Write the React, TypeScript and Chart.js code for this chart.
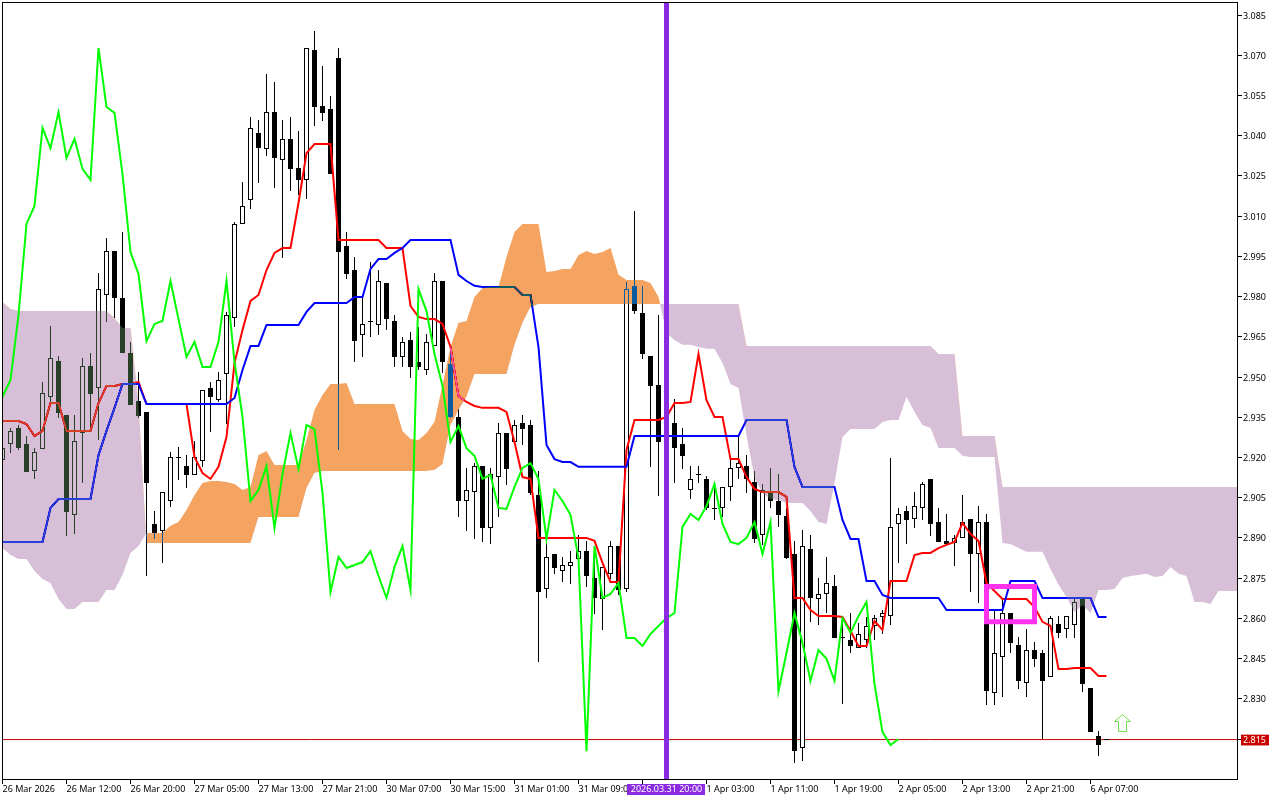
import React, { useEffect, useRef } from "react";
import { Chart, registerables } from "chart.js";

const fontFamily = "'Noto Sans', sans-serif";

const opens = [
  2.9191, 2.9250, 2.9310, 2.9250, 2.9150, 2.9232, 2.9426, 2.9560, 2.9358, 2.8986,
  2.9291, 2.9541, 2.9459, 2.9806, 2.9970, 2.9795, 2.9590, 2.9411, 2.9370, 2.8952,
  2.8926, 2.9038, 2.9202, 2.9168, 2.9135, 2.9187, 2.9459, 2.9414, 2.9511, 2.9720,
  3.0071, 3.0160, 3.0410, 3.0350, 3.0488, 3.0309, 3.0388, 3.0280, 3.0235, 3.0720,
  3.0511, 3.0500, 3.0690, 2.9989, 2.9899, 2.9657, 2.9705, 2.9694, 2.9851, 2.9709,
  2.9575, 2.9638, 2.9556, 2.9526, 2.9616, 2.9858, 2.9549, 2.9351, 2.9038, 2.9071,
  2.9168, 2.8937, 2.9127, 2.9291, 2.9258, 2.9329, 2.9321, 2.9060, 2.8710, 2.8840,
  2.8777, 2.8795, 2.8822, 2.8851, 2.8751, 2.8672, 2.8766, 2.8870, 2.8710, 2.9840,
  2.9739, 2.9578, 2.9470, 2.9351, 2.9329, 2.9250, 2.9079, 2.9138, 2.9120, 2.9012,
  2.9012, 2.9090, 2.9161, 2.9168, 2.9109, 2.8911, 2.9068, 2.9038, 2.8982, 2.8840,
  2.8117, 2.8859, 2.8672, 2.8691, 2.8721, 2.8531, 2.8519, 2.8490, 2.8519, 2.8572,
  2.8605, 2.8609, 2.8952, 2.9000, 2.8971, 2.9012, 2.9120, 2.8959, 2.8889, 2.8881,
  2.8900, 2.8971, 2.8840, 2.8959, 2.8322, 2.8456, 2.8620, 2.8501, 2.8359, 2.8482,
  2.8471, 2.8381, 2.8579, 2.8560, 2.8575, 2.8672, 2.8340, 2.8162, 2.8150,
];
const highs = [
  2.9239, 2.9310, 2.9321, 2.9280, 2.9235, 2.9482, 2.9690, 2.9578, 2.9358, 2.9358,
  2.9571, 2.9590, 2.9888, 3.0019, 2.9970, 3.0041, 2.9631, 2.9519, 2.9370, 2.9000,
  2.9071, 2.9220, 2.9239, 2.9209, 2.9262, 2.9452, 2.9482, 2.9519, 2.9743, 3.0078,
  3.0227, 3.0470, 3.0459, 3.0630, 3.0600, 3.0459, 3.0470, 3.0417, 3.0727, 3.0790,
  3.0660, 3.0548, 3.0727, 3.0041, 2.9948, 2.9798, 2.9929, 2.9899, 2.9851, 2.9731,
  2.9649, 2.9668, 2.9687, 2.9661, 2.9888, 2.9858, 2.9590, 2.9381, 2.9161, 2.9179,
  2.9168, 2.9161, 2.9329, 2.9291, 2.9340, 2.9358, 2.9340, 2.9150, 2.8881, 2.8840,
  2.8829, 2.8851, 2.8911, 2.8889, 2.8866, 2.8792, 2.8889, 2.8870, 2.9854, 3.0119,
  2.9840, 2.9578, 2.9731, 2.9396, 2.9418, 2.9310, 2.9168, 2.9168, 2.9131, 2.9101,
  2.9090, 2.9191, 2.9280, 2.9209, 2.9150, 2.9101, 2.9161, 2.9138, 2.9012, 2.8889,
  2.8930, 2.8911, 2.8751, 2.8829, 2.8762, 2.8605, 2.8620, 2.8583, 2.8605, 2.8613,
  2.8631, 2.9198, 2.9012, 2.9019, 2.9071, 2.9109, 2.9120, 2.9012, 2.8989, 2.8911,
  2.9060, 2.8971, 2.9019, 2.8989, 2.8631, 2.8669, 2.8620, 2.8531, 2.8560, 2.8512,
  2.8482, 2.8609, 2.8609, 2.8609, 2.8676, 2.8680, 2.8340, 2.8180, 2.8150,
];
const lows = [
  2.9183, 2.9217, 2.9228, 2.9146, 2.9120, 2.9232, 2.9407, 2.9347, 2.8907, 2.8915,
  2.9105, 2.9314, 2.9265, 2.9705, 2.9720, 2.9590, 2.9396, 2.9347, 2.8758, 2.8896,
  2.8807, 2.9015, 2.9116, 2.9086, 2.9135, 2.9165, 2.9295, 2.9407, 2.9325, 2.9687,
  3.0071, 3.0127, 3.0224, 3.0324, 3.0205, 2.9944, 3.0194, 3.0179, 3.0164, 3.0436,
  3.0455, 3.0257, 2.9228, 2.9866, 2.9556, 2.9575, 2.9649, 2.9657, 2.9675, 2.9537,
  2.9537, 2.9496, 2.9526, 2.9508, 2.9616, 2.9515, 2.9347, 2.8978, 2.8926, 2.8896,
  2.8885, 2.8877, 2.8978, 2.9097, 2.9258, 2.9247, 2.9060, 2.8437, 2.8676, 2.8766,
  2.8736, 2.8728, 2.8822, 2.8717, 2.8616, 2.8557, 2.8747, 2.8687, 2.8698, 2.9735,
  2.9567, 2.9165, 2.9056, 2.9265, 2.9105, 2.9157, 2.9045, 2.9105, 2.9004, 2.8967,
  2.8978, 2.9038, 2.9120, 2.9068, 2.8881, 2.8874, 2.9012, 2.8941, 2.8822, 2.8061,
  2.8068, 2.8587, 2.8575, 2.8620, 2.8527, 2.8281, 2.8471, 2.8490, 2.8490, 2.8519,
  2.8542, 2.8575, 2.8807, 2.8877, 2.8937, 2.8967, 2.8907, 2.8885, 2.8874, 2.8795,
  2.8900, 2.8698, 2.8657, 2.8277, 2.8277, 2.8307, 2.8471, 2.8337, 2.8307, 2.8419,
  2.8150, 2.8381, 2.8527, 2.8527, 2.8527, 2.8326, 2.8176, 2.8087, 2.8150,
];
const closes = [
  2.9235, 2.9299, 2.9235, 2.9146, 2.9220, 2.9441, 2.9571, 2.9366, 2.8997, 2.9262,
  2.9541, 2.9437, 2.9828, 2.9970, 2.9795, 2.9590, 2.9396, 2.9355, 2.9105, 2.8918,
  2.9071, 2.9202, 2.9198, 2.9135, 2.9202, 2.9452, 2.9426, 2.9489, 2.9731, 3.0071,
  3.0138, 3.0429, 3.0354, 3.0488, 3.0317, 3.0388, 3.0276, 3.0235, 3.0727, 3.0507,
  3.0485, 3.0257, 2.9966, 2.9884, 2.9634, 2.9698, 2.9709, 2.9858, 2.9716, 2.9575,
  2.9631, 2.9537, 2.9537, 2.9631, 2.9858, 2.9556, 2.9351, 2.9038, 2.9079, 2.9168,
  2.8937, 2.9138, 2.9291, 2.9157, 2.9321, 2.9306, 2.9068, 2.8698, 2.8829, 2.8788,
  2.8799, 2.8810, 2.8851, 2.8758, 2.8676, 2.8792, 2.8870, 2.8706, 2.9828, 2.9746,
  2.9586, 2.9467, 2.9258, 2.9317, 2.9235, 2.9206, 2.9120, 2.9135, 2.9012, 2.9008,
  2.9090, 2.9161, 2.9179, 2.9120, 2.8896, 2.9079, 2.9038, 2.8986, 2.8825, 2.8105,
  2.8870, 2.8676, 2.8691, 2.8732, 2.8527, 2.8527, 2.8497, 2.8542, 2.8572, 2.8601,
  2.8620, 2.8941, 2.8989, 2.8967, 2.9019, 2.9101, 2.8952, 2.8885, 2.8877, 2.8900,
  2.8959, 2.8840, 2.8959, 2.8329, 2.8471, 2.8620, 2.8508, 2.8367, 2.8482, 2.8449,
  2.8367, 2.8601, 2.8546, 2.8609, 2.8661, 2.8355, 2.8176, 2.8128, 2.8150,
];

const tenkan = [
  2.9336, 2.9336, 2.9336, 2.9325, 2.9280, 2.9299, 2.9403, 2.9403, 2.9299, 2.9299,
  2.9299, 2.9299, 2.9403, 2.9467, 2.9467, 2.9474, 2.9474, 2.9482, 2.9399, 2.9399,
  2.9399, 2.9399, 2.9399, 2.9399, 2.9202, 2.9142, 2.9120, 2.9165, 2.9276, 2.9552,
  2.9675, 2.9784, 2.9806, 2.9899, 2.9963, 2.9981, 2.9981, 3.0149, 3.0335, 3.0369,
  3.0369, 3.0369, 3.0011, 3.0011, 3.0011, 3.0011, 3.0011, 3.0011, 2.9981, 2.9981,
  2.9981, 2.9765, 2.9724, 2.9716, 2.9716, 2.9698, 2.9612, 2.9429, 2.9407, 2.9392,
  2.9385, 2.9385, 2.9385, 2.9370, 2.9258, 2.9127, 2.9120, 2.8900, 2.8900, 2.8900,
  2.8900, 2.8900, 2.8900, 2.8900, 2.8889, 2.8807, 2.8736, 2.8736, 2.9228, 2.9340,
  2.9340, 2.9340, 2.9340, 2.9351, 2.9403, 2.9403, 2.9407, 2.9586, 2.9414, 2.9351,
  2.9351, 2.9194, 2.9194, 2.9127, 2.9083, 2.9071, 2.9071, 2.9071, 2.9053, 2.8676,
  2.8676, 2.8631, 2.8609, 2.8609, 2.8609, 2.8605, 2.8553, 2.8497, 2.8497, 2.8590,
  2.8557, 2.8739, 2.8739, 2.8739, 2.8836, 2.8844, 2.8844, 2.8862, 2.8874, 2.8885,
  2.8956, 2.8915, 2.8889, 2.8732, 2.8702, 2.8672, 2.8672, 2.8672, 2.8672, 2.8642,
  2.8587, 2.8572, 2.8411, 2.8411, 2.8415, 2.8415, 2.8415, 2.8385, 2.8385,
];
const kijun = [
  2.8885, 2.8885, 2.8885, 2.8885, 2.8885, 2.8885, 2.9012, 2.9045, 2.9045, 2.9045,
  2.9045, 2.9045, 2.9209, 2.9299, 2.9385, 2.9474, 2.9474, 2.9474, 2.9399, 2.9399,
  2.9399, 2.9399, 2.9399, 2.9399, 2.9399, 2.9399, 2.9399, 2.9399, 2.9399, 2.9422,
  2.9526, 2.9616, 2.9616, 2.9694, 2.9694, 2.9694, 2.9694, 2.9694, 2.9743, 2.9776,
  2.9776, 2.9776, 2.9776, 2.9776, 2.9798, 2.9798, 2.9903, 2.9940, 2.9940, 2.9963,
  2.9981, 3.0011, 3.0011, 3.0011, 3.0011, 3.0011, 3.0011, 2.9881, 2.9858, 2.9840,
  2.9836, 2.9836, 2.9836, 2.9836, 2.9836, 2.9806, 2.9806, 2.9612, 2.9247, 2.9194,
  2.9183, 2.9183, 2.9165, 2.9165, 2.9165, 2.9165, 2.9165, 2.9165, 2.9165, 2.9280,
  2.9280, 2.9280, 2.9280, 2.9280, 2.9280, 2.9280, 2.9280, 2.9280, 2.9280, 2.9280,
  2.9280, 2.9280, 2.9280, 2.9340, 2.9340, 2.9340, 2.9340, 2.9340, 2.9340, 2.9165,
  2.9090, 2.9090, 2.9090, 2.9090, 2.9090, 2.8967, 2.8896, 2.8896, 2.8739, 2.8739,
  2.8687, 2.8676, 2.8676, 2.8676, 2.8676, 2.8676, 2.8676, 2.8676, 2.8631, 2.8631,
  2.8631, 2.8631, 2.8631, 2.8631, 2.8631, 2.8631, 2.8739, 2.8739, 2.8739, 2.8739,
  2.8676, 2.8676, 2.8676, 2.8676, 2.8676, 2.8676, 2.8676, 2.8605, 2.8605,
];
const chikou = [
  2.9426, 2.9489, 2.9731, 3.0071, 3.0138, 3.0429, 3.0354, 3.0488, 3.0317, 3.0388,
  3.0276, 3.0235, 3.0727, 3.0507, 3.0485, 3.0257, 2.9966, 2.9884, 2.9634, 2.9698,
  2.9709, 2.9858, 2.9716, 2.9575, 2.9631, 2.9537, 2.9537, 2.9631, 2.9858, 2.9556,
  2.9351, 2.9038, 2.9079, 2.9168, 2.8937, 2.9138, 2.9291, 2.9157, 2.9321, 2.9306,
  2.9068, 2.8698, 2.8829, 2.8788, 2.8799, 2.8810, 2.8851, 2.8758, 2.8676, 2.8792,
  2.8870, 2.8706, 2.9828, 2.9746, 2.9586, 2.9467, 2.9258, 2.9317, 2.9235, 2.9206,
  2.9120, 2.9135, 2.9012, 2.9008, 2.9090, 2.9161, 2.9179, 2.9120, 2.8896, 2.9079,
  2.9038, 2.8986, 2.8825, 2.8105, 2.8870, 2.8676, 2.8691, 2.8732, 2.8527, 2.8527,
  2.8497, 2.8542, 2.8572, 2.8601, 2.8620, 2.8941, 2.8989, 2.8967, 2.9019, 2.9101,
  2.8952, 2.8885, 2.8877, 2.8900, 2.8959, 2.8840, 2.8959, 2.8329, 2.8471, 2.8620,
  2.8508, 2.8367, 2.8482, 2.8449, 2.8367, 2.8601, 2.8546, 2.8609, 2.8661, 2.8355,
  2.8176, 2.8128, 2.8150,
];
const senkouA = [
  2.8862, 2.8836, 2.8821, 2.8821, 2.8777, 2.8747, 2.8732, 2.8672, 2.8635, 2.8635,
  2.8661, 2.8661, 2.8661, 2.8706, 2.8706, 2.8762, 2.8844, 2.8870, 2.8918, 2.8918,
  2.8918, 2.8945, 2.8959, 2.9004, 2.9060, 2.9105, 2.9112, 2.9112, 2.9109, 2.9101,
  2.9079, 2.9090, 2.9209, 2.9224, 2.9172, 2.9172, 2.9172, 2.9172, 2.9265, 2.9377,
  2.9433, 2.9474, 2.9474, 2.9478, 2.9399, 2.9399, 2.9399, 2.9399, 2.9399, 2.9399,
  2.9299, 2.9269, 2.9265, 2.9291, 2.9332, 2.9470, 2.9612, 2.9702, 2.9709, 2.9798,
  2.9832, 2.9836, 2.9836, 2.9948, 3.0041, 3.0071, 3.0071, 3.0071, 2.9892, 2.9895,
  2.9903, 2.9903, 2.9955, 2.9970, 2.9959, 2.9966, 2.9981, 2.9881, 2.9862, 2.9862,
  2.9862, 2.9851, 2.9798, 2.9664, 2.9638, 2.9620, 2.9620, 2.9612, 2.9605, 2.9605,
  2.9552, 2.9474, 2.9459, 2.9284, 2.9124, 2.9068, 2.9045, 2.9041, 2.9030, 2.9030,
  2.9030, 2.9000, 2.8959, 2.8952, 2.9105, 2.9276, 2.9306, 2.9306, 2.9306, 2.9306,
  2.9332, 2.9340, 2.9340, 2.9426, 2.9370, 2.9321, 2.9310, 2.9235, 2.9235, 2.9235,
  2.9206, 2.9202, 2.9202, 2.9202, 2.9202, 2.8881, 2.8877, 2.8862, 2.8848, 2.8848,
  2.8848, 2.8784, 2.8725, 2.8680, 2.8624, 2.8650, 2.8620, 2.8706, 2.8706, 2.8710,
  2.8751, 2.8758, 2.8762, 2.8766, 2.8754, 2.8758, 2.8792, 2.8766, 2.8758, 2.8661,
  2.8661, 2.8654, 2.8702, 2.8702, 2.8702, 2.8702,
];
const senkouB = [
  2.9780, 2.9754, 2.9746, 2.9746, 2.9746, 2.9746, 2.9746, 2.9746, 2.9746, 2.9746,
  2.9746, 2.9746, 2.9746, 2.9746, 2.9720, 2.9683, 2.9683, 2.9403, 2.8881, 2.8881,
  2.8881, 2.8881, 2.8881, 2.8881, 2.8881, 2.8881, 2.8881, 2.8881, 2.8881, 2.8881,
  2.8881, 2.8881, 2.8978, 2.8978, 2.8978, 2.8978, 2.8978, 2.8978, 2.9086, 2.9142,
  2.9150, 2.9150, 2.9150, 2.9150, 2.9150, 2.9150, 2.9150, 2.9150, 2.9150, 2.9150,
  2.9150, 2.9150, 2.9150, 2.9150, 2.9153, 2.9176, 2.9321, 2.9377, 2.9426, 2.9511,
  2.9511, 2.9511, 2.9511, 2.9511, 2.9620, 2.9702, 2.9761, 2.9772, 2.9772, 2.9772,
  2.9772, 2.9772, 2.9772, 2.9772, 2.9772, 2.9772, 2.9772, 2.9772, 2.9772, 2.9772,
  2.9772, 2.9772, 2.9772, 2.9772, 2.9772, 2.9772, 2.9772, 2.9772, 2.9772, 2.9772,
  2.9772, 2.9772, 2.9772, 2.9616, 2.9616, 2.9616, 2.9616, 2.9616, 2.9616, 2.9616,
  2.9616, 2.9616, 2.9616, 2.9616, 2.9616, 2.9616, 2.9616, 2.9616, 2.9616, 2.9616,
  2.9616, 2.9616, 2.9616, 2.9616, 2.9616, 2.9616, 2.9616, 2.9586, 2.9586, 2.9586,
  2.9280, 2.9280, 2.9280, 2.9280, 2.9280, 2.9090, 2.9090, 2.9090, 2.9090, 2.9090,
  2.9090, 2.9090, 2.9090, 2.9090, 2.9090, 2.9090, 2.9090, 2.9090, 2.9090, 2.9090,
  2.9090, 2.9090, 2.9090, 2.9090, 2.9090, 2.9090, 2.9090, 2.9090, 2.9090, 2.9090,
  2.9090, 2.9090, 2.9090, 2.9090, 2.9090, 2.9090,
];

const timeTickBars = [0, 8, 16, 24, 32, 40, 48, 56, 64, 72, 80, 88, 96, 104, 112, 120, 128, 136];
const timeTickLabels = [
  "26 Mar 2026", "26 Mar 12:00", "26 Mar 20:00", "27 Mar 05:00", "27 Mar 13:00", "27 Mar 21:00",
  "30 Mar 07:00", "30 Mar 15:00", "31 Mar 01:00", "31 Mar 09:00", "", "1 Apr 03:00",
  "1 Apr 11:00", "1 Apr 19:00", "2 Apr 05:00", "2 Apr 13:00", "2 Apr 21:00", "6 Apr 07:00",
];
const priceTicks = [
  3.085, 3.07, 3.055, 3.04, 3.025, 3.01, 2.995, 2.98, 2.965, 2.95,
  2.935, 2.92, 2.905, 2.89, 2.875, 2.86, 2.845, 2.83, 2.815,
];
const currentPriceTick = 2.815;
const currentPriceLine = 2.8148;
const priceLineBars = [-1, 156];
const markerBar = 83;
const markerLabel = "2026.03.31 20:00";
const markerPrices = [2.7997, 3.0899];
const boxBars = [123, 129, 129, 123, 123];
const boxPrices = [2.8719, 2.8719, 2.8587, 2.8587, 2.8719];
const arrowBar = 140;
const arrowPrice = 2.821;

const PRICE_MIN = 2.79973;
const PRICE_MAX = 3.08985;
const BAR_MIN = -0.0625;
const BAR_MAX = 154.4375;

const series = (values: number[]) => values.map((y, x) => ({ x, y }));

// Must be registered before the filler so the blend mode is set when the cloud is painted.
const framePlugin: any = {
  id: "mtFrame",
  beforeDraw(chart: any) {
    const { ctx, width, height } = chart;
    ctx.save();
    ctx.fillStyle = "#FFFFFF";
    ctx.fillRect(0, 0, width, height);
    ctx.restore();
  },
  beforeDatasetDraw(chart: any, args: any) {
    const ds = chart.data.datasets[args.index];
    if (ds.cloud) chart.ctx.globalCompositeOperation = "difference";
    if (args.meta.type === "bar") {
      args.meta.data.forEach((el: any) => {
        const top = Math.round(Math.min(el.y, el.base));
        let bottom = Math.round(Math.max(el.y, el.base));
        if (bottom === top) bottom = top + 1;
        el.y = top;
        el.base = bottom;
        el.x = Math.floor(el.x) + 0.5;
      });
    }
  },
  afterDatasetDraw(chart: any, args: any) {
    if (chart.data.datasets[args.index].cloud) chart.ctx.globalCompositeOperation = "source-over";
  },
  afterDraw(chart: any) {
    const { ctx, chartArea: a, scales } = chart;
    ctx.save();
    ctx.strokeStyle = "#000000";
    ctx.lineWidth = 1;
    ctx.strokeRect(a.left + 0.5, a.top + 0.5, a.right - a.left - 1, a.bottom - a.top - 1);
    const cx = Math.floor(scales.x.getPixelForValue(markerBar)) + 0.5;
    ctx.fillStyle = "#8A2BE2";
    ctx.fillRect(cx - 39.5, a.bottom + 4, 78, 11);
    ctx.fillStyle = "#FFFFFF";
    ctx.font = `9px ${fontFamily}`;
    ctx.textAlign = "center";
    ctx.textBaseline = "middle";
    ctx.fillText(markerLabel, cx, a.bottom + 9);
    ctx.restore();
  },
};
Chart.register(framePlugin);
Chart.register(...registerables);

function makeArrow() {
  const c = document.createElement("canvas");
  c.width = 19;
  c.height = 20;
  const g = c.getContext("2d")!;
  g.beginPath();
  g.moveTo(9.5, 1.5);
  g.lineTo(17.5, 8.5);
  g.lineTo(13.5, 8.5);
  g.lineTo(13.5, 18.5);
  g.lineTo(5.5, 18.5);
  g.lineTo(5.5, 8.5);
  g.lineTo(1.5, 8.5);
  g.closePath();
  g.fillStyle = "#FFFFFF";
  g.fill();
  g.strokeStyle = "#6FE04A";
  g.lineWidth = 1;
  g.stroke();
  return c;
}

export default function App() {
  const ref = useRef<HTMLCanvasElement | null>(null);
  useEffect(() => {
    const lineBase = { type: "line", pointRadius: 0, tension: 0, fill: false, borderCapStyle: "butt" };
    const datasets: any[] = [
      {
        ...lineBase, label: "Senkou A", data: series(senkouA), order: 50, cloud: true, borderWidth: 0,
        fill: { target: 1, above: "#0B5B9F", below: "#274027" },
      },
      { ...lineBase, label: "Senkou B", data: series(senkouB), order: 51, cloud: true, borderWidth: 0 },
      {
        ...lineBase, label: "Price", order: 100, borderWidth: 1, borderColor: "#C80000",
        data: priceLineBars.map((x) => ({ x, y: currentPriceLine })),
      },
      {
        type: "bar", label: "Wicks", order: 90, grouped: false, barThickness: 1, inflateAmount: 0,
        backgroundColor: "#000000", borderWidth: 0,
        data: highs.map((h, x) => ({ x, y: [lows[x], h] })),
      },
      {
        type: "bar", label: "Bodies", order: 80, grouped: false, barThickness: 5, inflateAmount: 0,
        borderWidth: 1, borderSkipped: false, borderColor: "#000000",
        backgroundColor: closes.map((c, i) => (c > opens[i] ? "#FFFFFF" : "#000000")),
        data: opens.map((o, x) => ({ x, y: [o, closes[x]] })),
      },
      { ...lineBase, label: "Tenkan", data: series(tenkan), order: 70, borderWidth: 2, borderColor: "#FF0000" },
      { ...lineBase, label: "Kijun", data: series(kijun), order: 60, borderWidth: 2, borderColor: "#0000FF" },
      { ...lineBase, label: "Chikou", data: series(chikou), order: 40, borderWidth: 2, borderColor: "#00FF00" },
      {
        ...lineBase, label: "Box", order: 30, borderWidth: 5, borderColor: "#FF33EE",
        borderJoinStyle: "miter", borderCapStyle: "square",
        data: boxBars.map((x, i) => ({ x, y: boxPrices[i] })),
      },
      {
        type: "line", label: "Arrow", order: 20, showLine: false, pointRadius: 10,
        pointStyle: makeArrow(), data: [{ x: arrowBar, y: arrowPrice }],
      },
      {
        ...lineBase, label: "Marker", order: 10, borderWidth: 5, borderColor: "#8A2BE2",
        data: markerPrices.map((y) => ({ x: markerBar, y })),
      },
    ];
    const chart = new Chart(ref.current as HTMLCanvasElement, {
      type: "line",
      data: { datasets },
      options: {
        animation: false,
        responsive: false,
        devicePixelRatio: 1,
        events: [],
        layout: { autoPadding: false, padding: { left: 2, top: 2, right: 0, bottom: 0 } },
        plugins: { legend: { display: false }, tooltip: { enabled: false } },
        scales: {
          x: {
            type: "linear", min: BAR_MIN, max: BAR_MAX, offset: false,
            afterFit: (s: any) => { s.height = 20; s.paddingLeft = 0; s.paddingRight = 0; },
            afterBuildTicks: (s: any) => { s.ticks = timeTickBars.map((value) => ({ value })); },
            border: { display: false },
            grid: { offset: false, drawOnChartArea: false, drawTicks: true, tickLength: 4, tickColor: "#000000" },
            ticks: {
              autoSkip: false, maxRotation: 0, minRotation: 0, align: "start", padding: 0,
              color: "#000000", font: { family: fontFamily, size: 9 },
              callback: (v: any) => timeTickLabels[timeTickBars.indexOf(v)] ?? "",
            },
          },
          y: {
            type: "linear", position: "right", min: PRICE_MIN, max: PRICE_MAX,
            afterFit: (s: any) => { s.width = 42; s.paddingTop = 0; s.paddingBottom = 0; },
            afterBuildTicks: (s: any) => { s.ticks = priceTicks.map((value) => ({ value })); },
            border: { display: false },
            grid: { drawOnChartArea: false, drawTicks: true, tickLength: 4, tickColor: "#000000" },
            ticks: {
              autoSkip: false, padding: 1, labelOffset: 1, font: { family: fontFamily, size: 9 },
              color: (c: any) => (c.tick.value === currentPriceTick ? "#FFFFFF" : "#000000"),
              showLabelBackdrop: (c: any) => c.tick.value === currentPriceTick,
              backdropColor: "#C80000",
              backdropPadding: { left: 2, right: 3, top: 0, bottom: 0 },
              callback: (v: any) => Number(v).toFixed(3),
            },
          },
        },
      },
    } as any);
    return () => chart.destroy();
  }, []);
  return (
    <div style={{ position: "fixed", left: 0, top: 0, width: 1280, height: 800, background: "#FFFFFF" }}>
      <canvas ref={ref} width={1280} height={800} style={{ display: "block" }} />
    </div>
  );
}
